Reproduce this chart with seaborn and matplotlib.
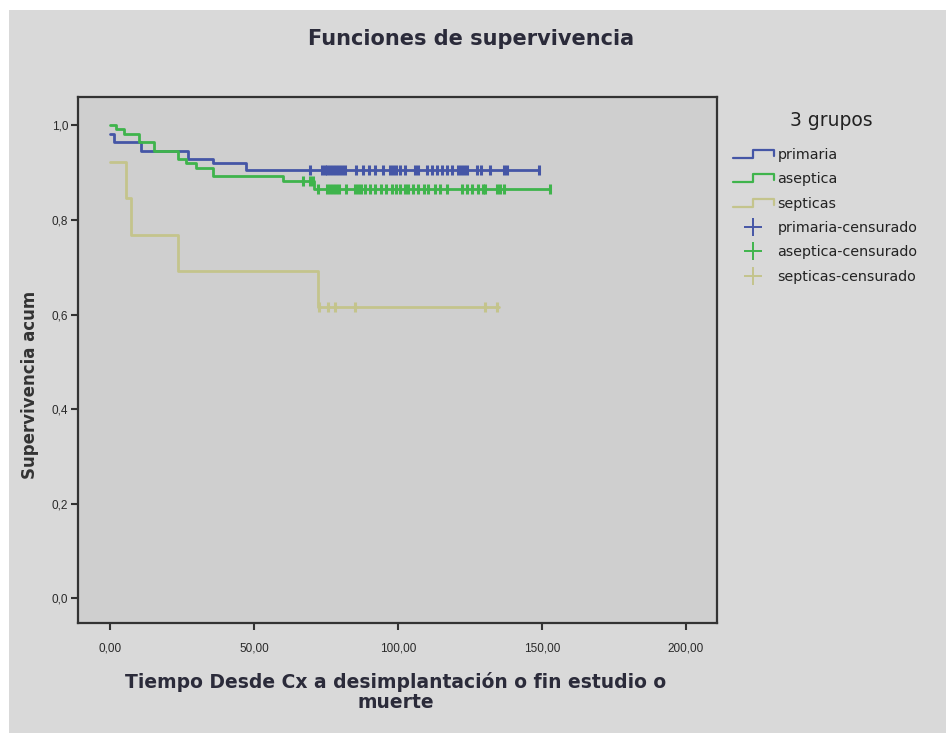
import numpy as np
import pandas as pd
import seaborn as sns
import matplotlib
matplotlib.use("Agg")
import matplotlib.pyplot as plt
from matplotlib.lines import Line2D
from matplotlib.patches import Rectangle
from matplotlib.legend_handler import HandlerBase
from matplotlib.ticker import FuncFormatter

# ---------------- data ----------------
groups = ["primaria", "aseptica", "septicas"]

primaria_t = [0, 1.4, 10.7, 26.9, 35.6, 47.3, 149.2]
primaria_s = [0.982, 0.965, 0.946, 0.929, 0.921, 0.905, 0.905]
primaria_c = [69.3, 73.5, 74.5, 75.5, 76.5, 77.5, 78.5, 79.5, 80.5, 81.5, 85.4,
              87.9, 90.0, 92.0, 94.9, 97.2, 98.3, 99.5, 100.7, 102.4, 105.9,
              107.1, 110.0, 111.7, 113.5, 115.2, 117.0, 118.7, 121.0, 122.0,
              123.0, 124.0, 127.4, 128.9, 132.0, 137.0, 137.9, 149.2]

aseptica_t = [0, 2.0, 4.8, 10.1, 15.3, 23.5, 26.3, 29.8, 35.7, 60.0, 71.0, 153.0]
aseptica_s = [1.0, 0.993, 0.982, 0.965, 0.946, 0.929, 0.921, 0.910, 0.893,
              0.883, 0.866, 0.866]
aseptica_c = [67.0, 69.4, 70.4, 72.2, 75.5, 76.5, 77.5, 78.5, 79.5, 82.1, 85.0,
              86.0, 87.0, 88.5, 90.2, 92.0, 94.1, 96.0, 98.0, 99.5, 100.7,
              102.4, 103.6, 105.3, 107.1, 109.0, 110.5, 112.9, 114.6, 117.0,
              122.2, 123.9, 125.7, 128.0, 129.7, 130.3, 134.4, 135.5, 137.0,
              153.0]

septicas_t = [0, 5.5, 7.2, 23.5, 72.2, 135.0]
septicas_s = [0.923, 0.846, 0.769, 0.692, 0.615, 0.615]
septicas_c = [72.6, 75.7, 78.0, 85.0, 130.3, 134.6]

colors = {"primaria": "#4556a6", "aseptica": "#3fb44c", "septicas": "#c4c48c"}

x_ticks = [0, 50, 100, 150, 200]
y_ticks = [0.0, 0.2, 0.4, 0.6, 0.8, 1.0]

title = "Funciones de supervivencia"
xlabel = "Tiempo Desde Cx a desimplantación o fin estudio o\nmuerte"
ylabel = "Supervivencia acum"
legend_title = "3 grupos"

# ---------------- build tables ----------------
steps = {"primaria": (primaria_t, primaria_s, primaria_c),
         "aseptica": (aseptica_t, aseptica_s, aseptica_c),
         "septicas": (septicas_t, septicas_s, septicas_c)}

line_rows, cens_rows = [], []
for g in groups:
    t, s, c = steps[g]
    for ti, si in zip(t, s):
        line_rows.append({"grupo": g, "tiempo": ti, "surv": si})
    t_arr = np.asarray(t); s_arr = np.asarray(s)
    for ci in c:
        idx = np.searchsorted(t_arr, ci, side="right") - 1
        cens_rows.append({"grupo": g, "tiempo": ci, "surv": s_arr[idx]})
lines_df = pd.DataFrame(line_rows)
cens_df = pd.DataFrame(cens_rows)

# ---------------- style ----------------
sns.set_style("white")
plt.rcParams["font.family"] = ["DejaVu Sans"]

fig = plt.figure(figsize=(9.46, 7.33), dpi=100)
fig.patch.set_facecolor("white")
fig.patches.append(Rectangle((9 / 946, 0), 1 - 9 / 946, 1 - 10 / 733,
                             transform=fig.transFigure, facecolor="#d9d9d9",
                             edgecolor="none", zorder=-10))

ax = fig.add_axes([78 / 946, 1 - 623 / 733, (717 - 78) / 946, (623 - 97) / 733])
ax.set_facecolor("#cfcfcf")

for g in groups:
    sub = lines_df[lines_df.grupo == g]
    sns.lineplot(data=sub, x="tiempo", y="surv", ax=ax, color=colors[g],
                 estimator=None, sort=False, drawstyle="steps-post",
                 linewidth=2.0, legend=False)
    csub = cens_df[cens_df.grupo == g]
    sns.scatterplot(data=csub, x="tiempo", y="surv", ax=ax, color=colors[g],
                    marker="|", s=60, linewidth=2.2, legend=False, zorder=3)

ax.set_xlim(-11.2, 210.9)
ax.set_ylim(-0.052, 1.06)
ax.set_xticks(x_ticks)
ax.set_yticks(y_ticks)
ax.xaxis.set_major_formatter(FuncFormatter(lambda v, p: f"{v:.2f}".replace(".", ",")))
ax.yaxis.set_major_formatter(FuncFormatter(lambda v, p: f"{v:.1f}".replace(".", ",")))
ax.tick_params(axis="both", which="major", bottom=True, left=True,
               direction="out", length=5, width=1.5,
               color="#333333", labelsize=8.5, labelcolor="#2a2a2a")
ax.tick_params(axis="x", pad=9)
ax.tick_params(axis="y", pad=2)
for lab in ax.get_xticklabels() + ax.get_yticklabels():
    lab.set_fontfamily(["Liberation Sans", "DejaVu Sans"])
for sp in ax.spines.values():
    sp.set_color("#333333")
    sp.set_linewidth(1.6)
ax.set_xlabel("")
ax.set_ylabel("")

fig.text(471 / 946, 1 - 39 / 733, title, ha="center", va="center",
         fontsize=15, fontweight="bold", color="#2b2b3a")
fig.text(30 / 946, 1 - 385 / 733, ylabel, ha="center", va="center",
         rotation=90, fontsize=12, fontweight="bold", color="#333333")
fig.text(396 / 946, 1 - 692 / 733, xlabel, ha="center", va="center",
         fontsize=13.5, fontweight="bold", color="#2b2b3a", linespacing=1.1)


# ---------------- legend ----------------
class StepHandler(HandlerBase):
    def create_artists(self, legend, orig_handle, xdescent, ydescent,
                       width, height, fontsize, trans):
        x0 = -xdescent
        y0 = -ydescent
        xs = [x0, x0 + 0.48 * width, x0 + 0.48 * width, x0 + width, x0 + width]
        ys = [y0 + 0.1 * height, y0 + 0.1 * height, y0 + 0.9 * height,
              y0 + 0.9 * height, y0 + 0.3 * height]
        ln = Line2D(xs, ys, color=orig_handle.get_color(),
                    linewidth=orig_handle.get_linewidth(), transform=trans)
        return [ln]


handles, labels, hmap = [], [], {}
for g in groups:
    h = Line2D([], [], color=colors[g], linewidth=1.6)
    handles.append(h); labels.append(g); hmap[h] = StepHandler()
for g in groups:
    h = Line2D([], [], color=colors[g], marker="+", linestyle="none",
               markersize=13, markeredgewidth=1.4)
    handles.append(h); labels.append(f"{g}-censurado")

leg = fig.legend(handles, labels, handler_map=hmap, loc="upper left",
                 bbox_to_anchor=(723 / 946, 1 - 138 / 733), frameon=False,
                 fontsize=10.3, handlelength=2.85, handletextpad=0.25,
                 labelspacing=0.72, borderpad=0.2)
for t in leg.get_texts():
    t.set_color("#222222")
fig.text(831 / 946, 1 - 120 / 733, legend_title, ha="center", va="center",
         fontsize=13.5, color="#222222")

fig.savefig("out.png", dpi=100, facecolor=fig.get_facecolor())
